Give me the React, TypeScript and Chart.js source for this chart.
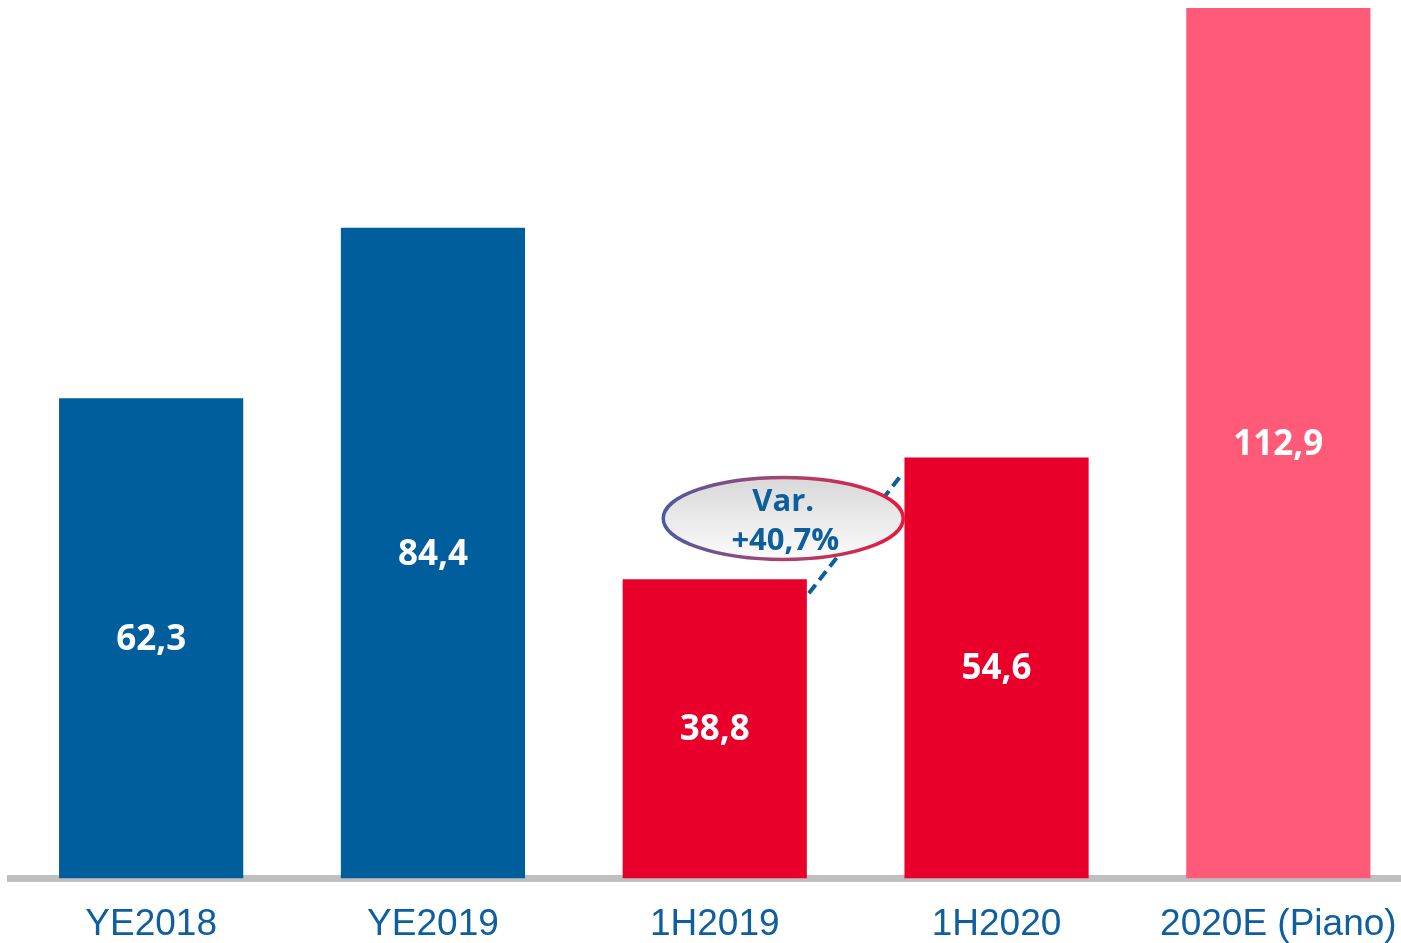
import React, { useEffect, useRef } from "react";
import { Chart, registerables } from "chart.js";

Chart.register(...registerables);

const categories = ["YE2018", "YE2019", "1H2019", "1H2020", "2020E (Piano)"];
const values = [62.3, 84.4, 38.8, 54.6, 112.9];
const barColors = ["#005E9C", "#005E9C", "#E8002B", "#E8002B", "#FF5A78"];
const varianceLines = ["Var.", "+40,7%"];
// variance bubble anchored between 1H2019 (index 2) and 1H2020 (index 3)
const varianceFrom = 2;
const varianceTo = 3;
const varianceBubbleY = 46.7;

const fmt = (v: number) => v.toFixed(1).replace(".", ",");

const valueLabelPlugin = {
  id: "valueLabels",
  afterDatasetsDraw(chart: any) {
    const ctx = chart.ctx;
    const meta = chart.getDatasetMeta(0);
    ctx.save();
    ctx.fillStyle = "#FFFFFF";
    ctx.font = "bold 35px 'Open Sans'";
    ctx.textAlign = "center";
    ctx.textBaseline = "middle";
    meta.data.forEach((bar: any, i: number) => {
      const y = (bar.y + bar.base) / 2 + 1.5;
      ctx.fillText(fmt(values[i]), bar.x, y);
    });
    ctx.restore();
  },
};

const variancePlugin = {
  id: "variance",
  afterDatasetsDraw(chart: any) {
    const ctx = chart.ctx;
    const meta = chart.getDatasetMeta(0);
    const b1 = meta.data[varianceFrom];
    const b2 = meta.data[varianceTo];
    const xs = chart.scales.x;
    const ys = chart.scales.y;
    // dashed connector
    ctx.save();
    ctx.strokeStyle = "#0D5E9C";
    ctx.lineWidth = 4;
    ctx.setLineDash([11, 6]);
    ctx.beginPath();
    ctx.moveTo(b1.x + b1.width / 2 + 2, b1.y + 14);
    ctx.lineTo(b2.x - b2.width / 2 - 5, b2.y + 20);
    ctx.stroke();
    ctx.restore();

    const p1 = xs.getPixelForValue(varianceFrom);
    const p2 = xs.getPixelForValue(varianceTo);
    const cx = p1 + 0.243 * (p2 - p1);
    const cy = ys.getPixelForValue(varianceBubbleY);
    const rx = 120;
    const ry = 41;
    ctx.save();
    const fill = ctx.createLinearGradient(0, cy - ry, 0, cy + ry);
    fill.addColorStop(0, "#D8D8D8");
    fill.addColorStop(1, "#FBFBFB");
    const stroke = ctx.createLinearGradient(cx - rx, 0, cx + rx, 0);
    stroke.addColorStop(0, "#4C5BA0");
    stroke.addColorStop(0.5, "#A8436F");
    stroke.addColorStop(1, "#E8183A");
    ctx.beginPath();
    ctx.ellipse(cx, cy, rx, ry, 0, 0, Math.PI * 2);
    ctx.fillStyle = fill;
    ctx.fill();
    ctx.lineWidth = 3.5;
    ctx.strokeStyle = stroke;
    ctx.stroke();
    ctx.fillStyle = "#0D5E9C";
    ctx.font = "bold 31px 'Open Sans'";
    ctx.textAlign = "center";
    ctx.textBaseline = "middle";
    ctx.fillText(varianceLines[0], cx, cy - 16);
    ctx.fillText(varianceLines[1], cx + 2, cy + 23);
    ctx.restore();
  },
};

export default function App() {
  const ref = useRef<HTMLCanvasElement | null>(null);
  useEffect(() => {
    if (!ref.current) return;
    const chart = new Chart(ref.current, {
      type: "bar",
      data: {
        labels: categories,
        datasets: [
          {
            data: values,
            backgroundColor: barColors,
            categoryPercentage: 1,
            barPercentage: 0.6536,
          },
        ],
      },
      options: {
        responsive: false,
        animation: false,
        layout: { padding: { top: 8, left: 10.25, right: 1.75, bottom: 0 } },
        plugins: { legend: { display: false }, tooltip: { enabled: false } },
        scales: {
          x: {
            z: 1,
            grid: { display: false, drawTicks: false, tickLength: 0 },
            border: { display: true, color: "#BFBFBF", width: 7 },
            ticks: {
              color: "#0F5FA0",
              font: { family: "'Liberation Sans', Arial", size: 37 },
              padding: 24,
              autoSkip: false,
              maxRotation: 0,
            },
            afterFit: (scale: any) => {
              scale.height = 64.5;
            },
          },
          y: {
            display: false,
            min: 0,
            max: 112.9,
          },
        },
      },
      plugins: [valueLabelPlugin, variancePlugin],
    });
    return () => chart.destroy();
  }, []);
  return (
    <div
      style={{
        position: "fixed",
        left: 0,
        top: 0,
        width: 1401,
        height: 943,
        overflow: "hidden",
        background: "#FFFFFF",
      }}
    >
      <canvas ref={ref} width={1421} height={943} style={{ display: "block" }} />
    </div>
  );
}
